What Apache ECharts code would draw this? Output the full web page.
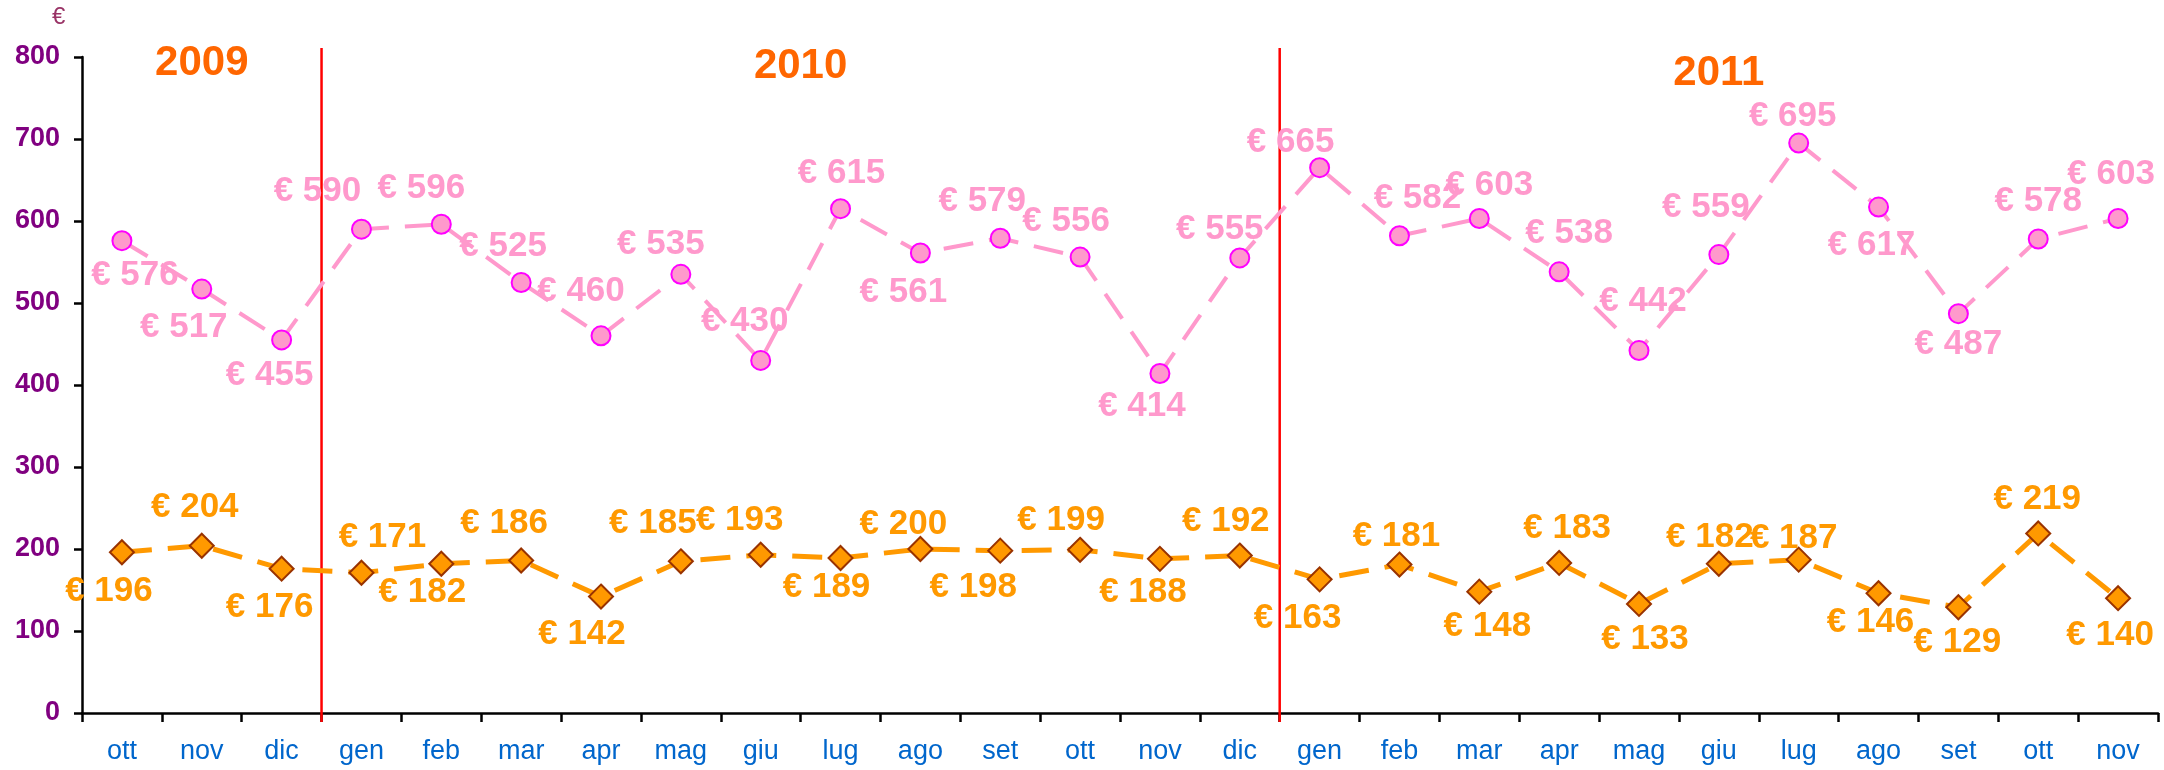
<!DOCTYPE html>
<html>
	<head>
		<meta charset="utf-8">
		<title>ECharts</title>
		<script src="https://cdn.jsdelivr.net/npm/echarts@6/dist/echarts.min.js"></script>
		<style>
			html, body { margin: 0; padding: 0; background: #fff; }
		</style>
	</head>
	<body>
		<div id="main" style="width: 2164px;height: 770px;"></div>
		<script type="text/javascript">
			// mesi (ott 2009 - nov 2011)
			var months = ['ott', 'nov', 'dic', 'gen', 'feb', 'mar', 'apr', 'mag', 'giu', 'lug', 'ago', 'set',
				'ott', 'nov', 'dic', 'gen', 'feb', 'mar', 'apr', 'mag', 'giu', 'lug', 'ago', 'set', 'ott', 'nov'];
			var pinkValues = [576, 517, 455, 590, 596, 525, 460, 535, 430, 615, 561, 579, 556, 414, 555,
				665, 582, 603, 538, 442, 559, 695, 617, 487, 578, 603];
			var orangeValues = [196, 204, 176, 171, 182, 186, 142, 185, 193, 189, 200, 198, 199, 188, 192,
				163, 181, 148, 183, 133, 182, 187, 146, 129, 219, 140];
			// anni: [etichetta, primo mese, ultimo mese]
			var years = [['2009', 0, 2], ['2010', 3, 14], ['2011', 15, 25]];
			var yTicks = [0, 800, 100];

			// spostamento delle etichette rispetto al punto
			var pinkOffsets = [[13, 35], [-18, 38], [-12, 35], [-44, -38], [-20, -36], [-18, -36], [-20, -44], [-20, -30],
				[-16, -39], [1, -35], [-17, 39], [-18, -37], [-14, -36], [-18, 33], [-20, -29], [-29, -25], [18, -37],
				[10, -33], [10, -38], [4, -49], [-13, -47], [-6, -27], [-7, 38], [0, 31], [0, -38], [-7, -44]];
			var orangeOffsets = [[-13, 39], [-7, -38], [-12, 39], [21, -35], [-19, 29], [-17, -37], [-19, 38], [-28, -38],
				[-21, -34], [-14, 29], [-17, -25], [-27, 37], [-19, -29], [-17, 34], [-14, -34], [-22, 39], [-3, -28],
				[8, 35], [8, -35], [6, 35], [-9, -26], [-5, -21], [-8, 29], [-1, 35], [-1, -34], [-8, 37]];
			var yearTop = [63, 66, 73];

			var font = "'Liberation Sans', Arial, sans-serif";

			function makeData(values, offsets) {
				return values.map(function (v, i) {
					return { value: v, label: { offset: offsets[i] } };
				});
			}

			var myChart = echarts.init(document.getElementById('main'));
			var option = {
				animation: false,
				backgroundColor: '#ffffff',
				grid: { left: 82, right: 6, top: 57, bottom: 57 },
				xAxis: {
					type: 'category',
					data: months,
					boundaryGap: true,
					axisLine: { lineStyle: { color: '#000', width: 2.5 } },
					axisTick: { show: true, length: 9, alignWithLabel: false, lineStyle: { color: '#000', width: 2.5 } },
					axisLabel: { color: '#0066CC', fontSize: 27, fontFamily: font, margin: 25, interval: 0 }
				},
				yAxis: {
					type: 'value',
					min: yTicks[0],
					max: yTicks[1],
					interval: yTicks[2],
					splitLine: { show: false },
					axisLine: { show: true, lineStyle: { color: '#000', width: 2.5 } },
					axisTick: { show: true, length: 8, lineStyle: { color: '#000', width: 2.5 } },
					axisLabel: { color: '#800080', fontSize: 27, fontWeight: 'bold', fontFamily: font, margin: 22 }
				},
				series: [{
					type: 'line',
					data: makeData(pinkValues, pinkOffsets),
					symbol: 'circle',
					symbolSize: 19,
					itemStyle: { color: '#FF99CC', borderColor: '#FF00FF', borderWidth: 2 },
					lineStyle: { color: '#FF99CC', width: 4, type: [30, 16] },
					label: {
						show: true, position: 'inside',
						formatter: function (p) { return '€ ' + p.value; },
						color: '#FF99CC', fontSize: 35, fontWeight: 'bold', fontFamily: font
					},
					z: 3
				}, {
					type: 'line',
					data: makeData(orangeValues, orangeOffsets),
					symbol: 'diamond',
					symbolSize: 24,
					itemStyle: { color: '#FF9900', borderColor: '#993300', borderWidth: 2 },
					lineStyle: { color: '#FF9900', width: 5, type: [30, 16] },
					label: {
						show: true, position: 'inside',
						formatter: function (p) { return '€ ' + p.value; },
						color: '#FF9900', fontSize: 35, fontWeight: 'bold', fontFamily: font
					},
					z: 3
				}]
			};
			myChart.setOption(option);

			// linee rosse di separazione anni, titoli degli anni e simbolo dell'asse
			function px(i) {
				return myChart.convertToPixel({ xAxisIndex: 0 }, i);
			}
			var step = px(1) - px(0);
			var graphics = [{
				type: 'text', z: 5,
				left: 52, top: 5,
				style: { text: '€', fill: '#993366', font: '24px ' + font }
			}];
			years.forEach(function (y, k) {
				var x0 = px(y[1]) - step / 2;
				var x1 = px(y[2]) + step / 2;
				if (k > 0) {
					graphics.push({
						type: 'line', z: 1,
						shape: { x1: x0, y1: 48, x2: x0, y2: 722 },
						style: { stroke: '#FF0000', lineWidth: 2.5 }
					});
				}
				graphics.push({
					type: 'text', z: 5,
					x: (x0 + x1) / 2, y: yearTop[k],
					style: {
						text: y[0], fill: '#FF6600', font: 'bold 42px ' + font,
						textAlign: 'center', textVerticalAlign: 'middle'
					}
				});
			});
			myChart.setOption({ graphic: graphics });
		</script>
	</body>
</html>
